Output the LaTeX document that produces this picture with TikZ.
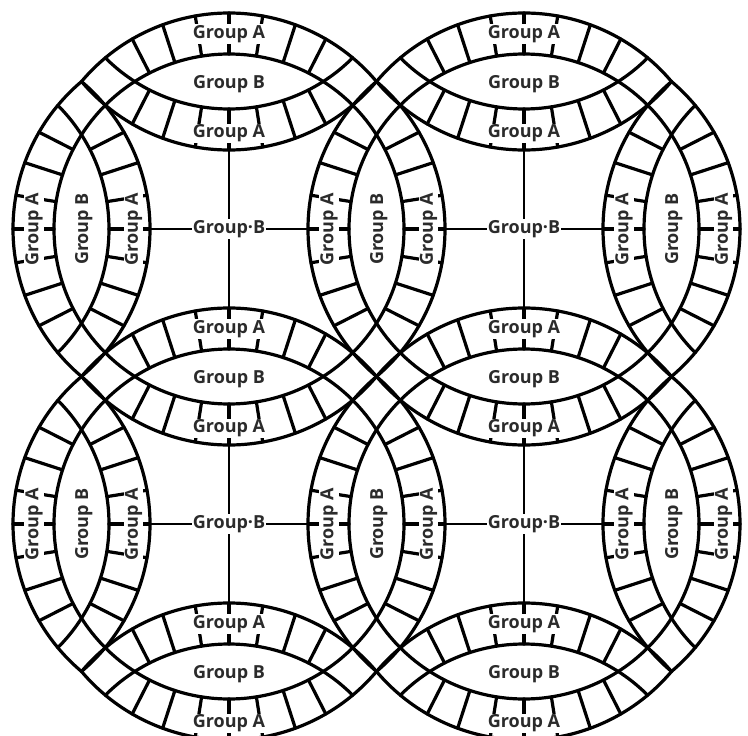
\documentclass[tikz,border=0pt]{standalone}
\usepackage{fontspec}
\newfontfamily\lblfont{Open Sans}
\usetikzlibrary{calc}
\definecolor{txt}{HTML}{2B2B2B}
\tikzset{
  ln/.style={line width=3.2pt, line cap=round, line join=round},
  crossln/.style={line width=2.7pt},
  lbl/.style={font=\lblfont\bfseries\fontsize{18}{21}\selectfont, text=txt, fill=white, inner sep=1pt},
}
% band of cell P=(#1,#2) facing neighbour N in direction #3
\newcommand\bandlines[4]{%
  \pgfmathsetmacro\ux{cos(#3)}%
  \pgfmathsetmacro\uy{sin(#3)}%
  \pgfmathsetmacro\Nx{#1+295*\ux}%
  \pgfmathsetmacro\Ny{#2+295*\uy}%
  \pgfmathsetmacro\Qx{#1+272*\ux}%
  \pgfmathsetmacro\Qy{#2+272*\uy}%
  \pgfmathsetmacro\back{#3+180}%
  \pgfmathsetmacro\sa{\back-49.83}%
  \pgfmathsetmacro\ea{\back+49.83}%
  \coordinate (#4N) at (\Nx,\Ny);
  \coordinate (#4Q) at (\Qx,\Qy);
  \draw[ln] ($(#4Q)+(\sa:193)$) arc[start angle=\sa, end angle=\ea, radius=193];
  \foreach \aa/\rr in {0/216,9/215.7,-9/215.7,18/214.9,-18/214.9,27/213.2,-27/213.2}{%
    \pgfmathsetmacro\ang{\back+\aa}%
    \draw[ln] ($(#4N)+(\ang:175)$) -- ($(#4N)+(\ang:\rr)$);
  }%
}
\newcommand\bandlabel[4]{%
  \pgfmathsetmacro\ux{cos(#3)}%
  \pgfmathsetmacro\uy{sin(#3)}%
  \pgfmathsetmacro\rot{abs(\ux)>0.5 ? 90 : 0}%
  \pgfmathsetmacro\Lx{#1+97.8*\ux+(abs(\ux)>0.5 ? 2.2 : 0)}%
  \pgfmathsetmacro\Ly{#2+97.8*\uy+(abs(\ux)>0.5 ? 0 : 2.2)}%
  \node[lbl, rotate=\rot] (#4L) at (\Lx,\Ly) {Group A};
}
\newcommand\vring[3]{%
  \pgfmathsetmacro\sa{#3-45}%
  \pgfmathsetmacro\ea{#3+45}%
  \draw[ln] ($(#1,#2)+(\sa:175)$) arc[start angle=\sa, end angle=\ea, radius=175];
}
\begin{document}
\begin{tikzpicture}[x=1pt,y=-1pt]
\useasboundingbox (0,0) rectangle (748,736);
\clip (0,0) rectangle (748,736);
% real cells: rings and crosses
\foreach \px/\py/\nm in {229/229/c00, 524/229/c10, 229/524/c01, 524/524/c11}{
  \draw[ln] (\px,\py) circle[radius=175];
  \coordinate (\nm t) at (\px,\py-79);
  \coordinate (\nm b) at (\px,\py+79);
  \coordinate (\nm l) at (\px-79,\py);
  \coordinate (\nm r) at (\px+79,\py);
  \draw[crossln] (\nm t) -- (\nm b);
  \draw[crossln] (\nm l) -- (\nm r);
}
% virtual neighbours: partial rings
\foreach \vx/\vy/\ph in {229/-66/90, 524/-66/90, -66/229/0, -66/524/0, 819/229/180, 819/524/180, 229/819/270, 524/819/270}{
  \vring{\vx}{\vy}{\ph}
}
% bands
\foreach \px/\py/\th/\nm in {229/229/0/a1, 229/229/90/a2, 229/229/180/a3, 229/229/270/a4,
  524/229/0/a5, 524/229/90/a6, 524/229/180/a7, 524/229/270/a8,
  229/524/0/a9, 229/524/90/a10, 229/524/180/a11, 229/524/270/a12,
  524/524/0/a13, 524/524/90/a14, 524/524/180/a15, 524/524/270/a16,
  229/-66/90/a17, 524/-66/90/a18, -66/229/0/a19, -66/524/0/a20,
  819/229/180/a21, 819/524/180/a22, 229/819/270/a23, 524/819/270/a24}{
  \bandlines{\px}{\py}{\th}{\nm}
}
% labels
\foreach \px/\py/\th/\nm in {229/229/0/a1, 229/229/90/a2, 229/229/180/a3, 229/229/270/a4,
  524/229/0/a5, 524/229/90/a6, 524/229/180/a7, 524/229/270/a8,
  229/524/0/a9, 229/524/90/a10, 229/524/180/a11, 229/524/270/a12,
  524/524/0/a13, 524/524/90/a14, 524/524/180/a15, 524/524/270/a16,
  229/-66/90/a17, 524/-66/90/a18, -66/229/0/a19, -66/524/0/a20,
  819/229/180/a21, 819/524/180/a22, 229/819/270/a23, 524/819/270/a24}{
  \bandlabel{\px}{\py}{\th}{\nm}
}
\foreach \mx/\my/\nm in {229/83.7/m1, 524/83.7/m2, 229/378.7/m3, 524/378.7/m4, 229/673.7/m5, 524/673.7/m6}{
  \node[lbl] (\nm) at (\mx,\my) {Group B};
}
\foreach \mx/\my/\nm in {83.7/229/m7, 378.7/229/m8, 673.7/229/m9, 83.7/524/m10, 378.7/524/m11, 673.7/524/m12}{
  \node[lbl, rotate=90] (\nm) at (\mx,\my) {Group B};
}
\foreach \px/\py/\nm in {229/229/g00, 524/229/g10, 229/524/g01, 524/524/g11}{
  \node[lbl] (\nm) at (\px,\py) {Group·B};
}
\end{tikzpicture}
\end{document}
